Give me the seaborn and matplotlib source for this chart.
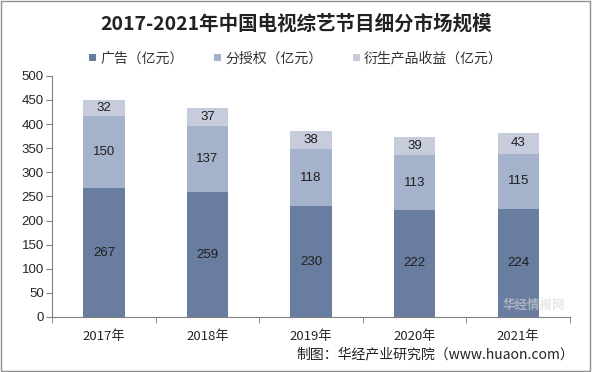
import numpy as np
import pandas as pd
import seaborn as sns
from matplotlib import pyplot as plt
from matplotlib.patches import Rectangle

sns.set_style("white")
plt.rcParams['font.family'] = ['Noto Sans CJK SC', 'DejaVu Sans']

years = ["2017年", "2018年", "2019年", "2020年", "2021年"]
ads = [267, 259, 230, 222, 224]
licensing = [150, 137, 118, 113, 115]
derivatives = [32, 37, 38, 39, 43]
series_names = ["广告（亿元）", "分授权（亿元）", "衍生产品收益（亿元）"]
colors = ["#687d9f", "#a5b2cb", "#c6ccdc"]

df = pd.DataFrame({"year": years, "ads": ads, "lic": licensing, "der": derivatives})
df["s1"] = df["ads"]
df["s2"] = df["ads"] + df["lic"]
df["s3"] = df["s2"] + df["der"]

fig = plt.figure(figsize=(5.92, 3.72), dpi=100)
ax = fig.add_axes([0.088, 0.148, 0.875, 0.648])

# stacked bars: draw cumulative totals from the top down
for col, c, name in zip(["s3", "s2", "s1"], colors[::-1], series_names[::-1]):
    sns.barplot(data=df, x="year", y=col, color=c, width=0.4, saturation=1,
                ax=ax, label=name, edgecolor="none")

for i in range(len(years)):
    base = 0
    for v in [ads[i], licensing[i], derivatives[i]]:
        ax.text(i, base + v / 2, str(v), ha="center", va="center",
                fontsize=9.5, color="#1f1f1f", family=['Liberation Sans', 'DejaVu Sans'])
        base += v

ax.set_ylim(0, 500)
ax.set_xlim(-0.5, 4.5)
ax.set_yticks(range(0, 501, 50))
ax.set_xlabel("")
ax.set_ylabel("")
ax.tick_params(axis="y", left=True, length=4, color="#808080", labelsize=9.5, pad=2)
ax.tick_params(axis="x", bottom=False, labelsize=9.5, pad=6)
ax.set_xticks(np.arange(-0.5, 5, 1), minor=True)
ax.tick_params(axis="x", which="minor", bottom=True, length=4, color="#808080")
for lab in ax.get_yticklabels():
    lab.set_family(['Liberation Sans', 'DejaVu Sans'])
for s in ["top", "right"]:
    ax.spines[s].set_visible(False)
for s in ["left", "bottom"]:
    ax.spines[s].set_color("#808080")
    ax.spines[s].set_linewidth(0.8)

handles, labels = ax.get_legend_handles_labels()
ax.legend(handles[::-1], labels[::-1], loc="center", bbox_to_anchor=(0.5, 0.843),
          bbox_transform=fig.transFigure, ncol=3, frameon=False, fontsize=10,
          handlelength=0.5, handleheight=0.5, handletextpad=0.3, columnspacing=2.2,
          labelcolor="#333333")

fig.text(0.5, 0.935, "2017-2021年中国电视综艺节目细分市场规模", ha="center", va="center",
         fontsize=14, fontweight="bold", color="#222222")
fig.text(0.97, 0.048, "制图：华经产业研究院（www.huaon.com）", ha="right", va="center",
         fontsize=10, color="#222222")
fig.text(0.955, 0.178, "华经情报网", ha="right", va="center", fontsize=9,
         fontweight="bold", color="#d8d8d8", alpha=0.6)

fig.patches.append(Rectangle((0.002, 0.003), 0.995, 0.993, transform=fig.transFigure,
                             fill=False, edgecolor="#909090", linewidth=1))

fig.savefig("out.png", dpi=100)
